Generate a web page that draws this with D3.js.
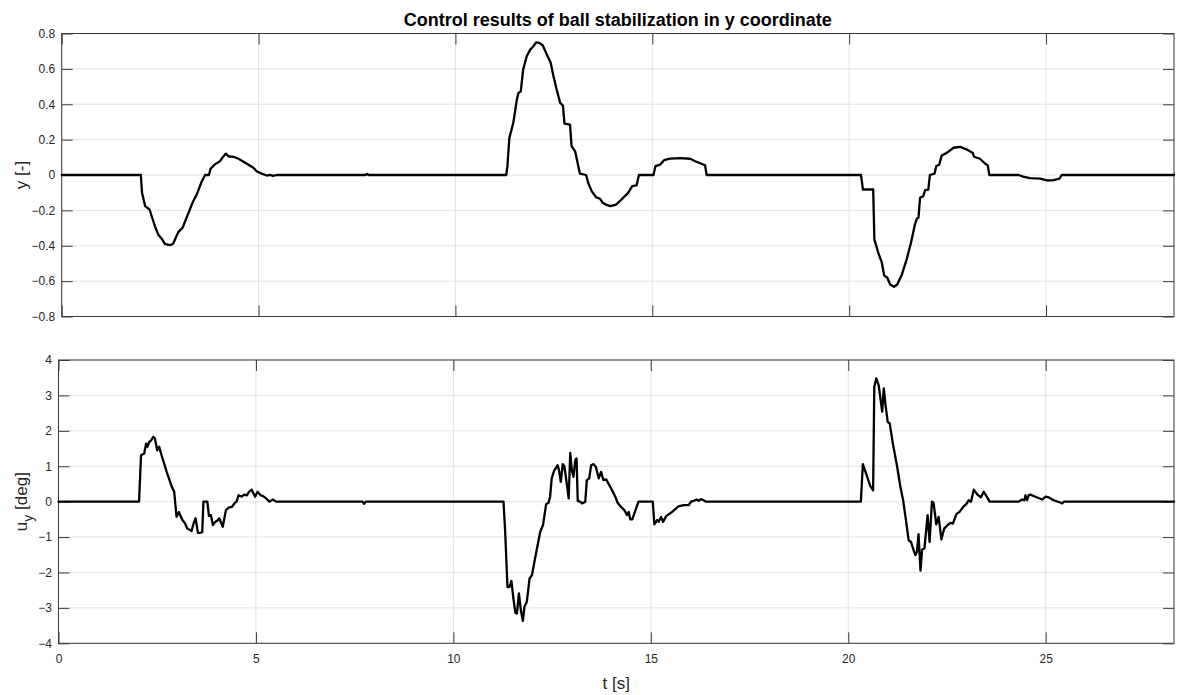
<!DOCTYPE html>
<html>
<head>
<meta charset="utf-8">
<script src="https://cdn.jsdelivr.net/npm/d3@7"></script>
<style>
  html, body { margin: 0; padding: 0; background: #fff; }
  svg { display: block; font-family: "Liberation Sans", Arial, Helvetica, sans-serif; }
</style>
</head>
<body>
<svg id="chart" width="1177" height="695"></svg>
<script>
// ---------------- DATA ----------------
const titleText = "Control results of ball stabilization in y coordinate";
const xLabelText = "t [s]";
const xDomain = [0, 28.25];
const xTicks = [0, 5, 10, 15, 20, 25];
const yTopTicks = [-0.8, -0.6, -0.4, -0.2, 0, 0.2, 0.4, 0.6, 0.8];
const yBotTicks = [-4, -3, -2, -1, 0, 1, 2, 3, 4];

// ball position y [-]
const tY = [0, 2.01, 2.04, 2.12, 2.23, 2.37, 2.45, 2.54, 2.62, 2.75, 2.83, 2.96, 3.07, 3.22, 3.34, 3.43, 3.56, 3.64, 3.74, 3.78, 3.89, 4.02, 4.10, 4.17, 4.23, 4.36, 4.49, 4.66, 4.87, 4.95, 5.08, 5.21, 5.29, 5.37, 5.46,
  7.72, 7.76, 7.80,
  11.29, 11.32, 11.37, 11.47, 11.56, 11.60, 11.66, 11.72, 11.81, 11.90, 11.98, 12.05, 12.13, 12.22, 12.32, 12.42, 12.49, 12.57, 12.66, 12.73, 12.77, 12.91, 12.95, 13.04, 13.16, 13.32, 13.37, 13.46, 13.57, 13.67, 13.74, 13.84, 13.94, 14.08, 14.22, 14.39, 14.49, 14.60, 14.66, 15.03, 15.08, 15.20, 15.30, 15.45, 15.71, 15.96, 16.09, 16.34, 16.38,
  20.30, 20.35, 20.61, 20.64, 20.74, 20.83, 20.89, 20.97, 21.04, 21.14, 21.22, 21.34, 21.46, 21.57, 21.67, 21.72, 21.76, 21.80, 21.88, 21.93, 22.01, 22.05, 22.17, 22.21, 22.29, 22.35, 22.48, 22.65, 22.82, 22.99, 23.14, 23.17, 23.32, 23.45, 23.52, 23.56,
  24.30, 24.42, 24.59, 24.85, 25.02, 25.19, 25.34, 25.40, 28.25];
const yVal = [0, 0, -0.10, -0.176, -0.195, -0.29, -0.336, -0.36, -0.389, -0.397, -0.389, -0.323, -0.298, -0.214, -0.148, -0.11, -0.035, 0, 0, 0.035, 0.06, 0.078, 0.103, 0.121, 0.106, 0.103, 0.092, 0.069, 0.041, 0.021, 0.008, -0.003, 0.001, -0.005, 0,
  0, 0.006, 0,
  0, 0.05, 0.21, 0.295, 0.427, 0.464, 0.473, 0.596, 0.671, 0.709, 0.728, 0.75, 0.747, 0.732, 0.681, 0.634, 0.558, 0.483, 0.408, 0.393, 0.291, 0.285, 0.163, 0.134, 0.008, 0, -0.044, -0.091, -0.125, -0.134, -0.157, -0.169, -0.176, -0.167, -0.138, -0.10, -0.063, -0.059, 0, 0, 0.05, 0.059, 0.084, 0.093, 0.095, 0.092, 0.078, 0.055, 0,
  0, -0.082, -0.082, -0.364, -0.44, -0.496, -0.568, -0.581, -0.619, -0.632, -0.619, -0.562, -0.477, -0.383, -0.28, -0.246, -0.242, -0.129, -0.12, -0.086, -0.082, 0, 0.008, 0.05, 0.059, 0.11, 0.125, 0.154, 0.159, 0.144, 0.125, 0.103, 0.092, 0.065, 0.054, 0,
  0, -0.009, -0.018, -0.021, -0.031, -0.029, -0.021, 0, 0];

// control action u_y [deg]
const tU = [0, 2.04, 2.09, 2.17, 2.22, 2.25, 2.30, 2.34, 2.40, 2.44, 2.50, 2.55, 2.61, 2.74, 2.87, 2.93, 2.99, 3.05, 3.10, 3.15, 3.20, 3.26, 3.33, 3.37, 3.42, 3.47, 3.50, 3.53, 3.58, 3.64, 3.67, 3.77, 3.81, 3.86, 3.91, 3.97, 4.02, 4.07, 4.16, 4.24, 4.32, 4.39, 4.47, 4.51, 4.56, 4.64, 4.70, 4.77, 4.83, 4.89, 4.98, 5.04, 5.12, 5.19, 5.26, 5.34, 5.43, 5.51,
  7.70, 7.74, 7.78,
  11.27, 11.31, 11.37, 11.42, 11.47, 11.52, 11.57, 11.61, 11.66, 11.71, 11.76, 11.80, 11.86, 11.93, 11.99, 12.07, 12.20, 12.27, 12.35, 12.41, 12.45, 12.49, 12.55, 12.64, 12.67, 12.72, 12.77, 12.81, 12.86, 12.92, 12.96, 13.00, 13.04, 13.09, 13.12, 13.15, 13.21, 13.26, 13.34, 13.38, 13.44, 13.49, 13.55, 13.61, 13.68, 13.74, 13.80, 13.87, 14.02, 14.10, 14.16, 14.23, 14.33, 14.40, 14.44, 14.48, 14.53, 14.69, 15.05, 15.09, 15.16, 15.20, 15.26, 15.31, 15.39, 15.54, 15.70, 15.83, 15.96, 16.02, 16.08, 16.17, 16.21, 16.27, 16.34, 16.40,
  20.32, 20.37, 20.48, 20.56, 20.63, 20.66, 20.71, 20.77, 20.81, 20.86, 20.90, 20.94, 21.00, 21.05, 21.13, 21.24, 21.32, 21.39, 21.45, 21.53, 21.59, 21.64, 21.70, 21.74, 21.78, 21.83, 21.87, 21.93, 22.01, 22.06, 22.12, 22.16, 22.23, 22.29, 22.36, 22.43, 22.52, 22.59, 22.65, 22.74, 22.82, 22.91, 22.99, 23.05, 23.11, 23.18, 23.26, 23.36, 23.43, 23.52, 23.58,
  24.32, 24.40, 24.46, 24.49, 24.53, 24.57, 24.61, 24.74, 24.91, 25.00, 25.08, 25.20, 25.33, 25.42, 25.46, 28.25];
const uVal = [0, 0, 1.31, 1.36, 1.64, 1.55, 1.69, 1.72, 1.83, 1.79, 1.45, 1.55, 1.31, 0.84, 0.42, 0.28, -0.43, -0.29, -0.43, -0.54, -0.60, -0.76, -0.80, -0.83, -0.62, -0.47, -0.66, -0.88, -0.88, -0.86, 0, 0, -0.41, -0.38, -0.66, -0.57, -0.54, -0.47, -0.71, -0.24, -0.16, -0.15, -0.03, 0, 0.18, 0.14, 0.20, 0.18, 0.28, 0.34, 0.14, 0.28, 0.18, 0.15, 0.09, 0, 0.06, 0,
  0, -0.06, 0,
  0, -0.80, -2.41, -2.41, -2.24, -2.73, -3.14, -3.16, -2.59, -3.07, -3.37, -2.97, -2.83, -2.17, -2.08, -1.60, -0.85, -0.66, -0.07, -0.03, 0.14, 0.66, 0.87, 1.03, 0.91, 0.56, 1.06, 1.00, 0.61, 0.09, 1.38, 0.89, 0.70, 1.19, 1.22, 0.02, 0, -0.05, 0, 0.61, 0.66, 1.03, 1.06, 0.98, 0.66, 0.84, 0.61, 0.63, 0.32, 0.14, -0.03, -0.13, -0.24, -0.38, -0.29, -0.50, -0.50, 0, 0, -0.64, -0.52, -0.57, -0.43, -0.57, -0.41, -0.29, -0.13, -0.10, -0.10, 0, 0.02, 0.06, 0.02, 0.07, 0.04, 0,
  0, 1.06, 0.70, 0.44, 0.32, 3.24, 3.48, 3.29, 2.96, 2.54, 3.20, 2.77, 2.25, 2.21, 1.64, 0.98, 0.42, 0.04, -0.43, -1.09, -1.14, -1.32, -1.51, -1.42, -0.92, -1.95, -1.35, -1.32, -0.38, -1.14, 0, -0.03, -0.64, -0.43, -1.07, -0.76, -0.66, -0.60, -0.62, -0.35, -0.29, -0.15, -0.07, 0.04, 0, 0.34, 0.21, 0.12, 0.28, 0.12, 0,
  0, 0.06, 0.04, 0.18, 0.04, 0.18, 0.20, 0.14, 0.06, 0.14, 0.12, 0.04, -0.01, -0.05, 0, 0];

// ---------------- DRAWING ----------------
const svg = d3.select("#chart");
const TEXT = "#262626";
const GRID = "#e3e3e3";
const AXIS = "#3a3a3a";
const TICK_LEN = 11;

const panels = [
  { left: 61.7, right: 1174, top: 33.5, bottom: 316.5, domain: [-0.8, 0.8], ticks: yTopTicks, t: tY, v: yVal, showX: false },
  { left: 58.5, right: 1174, top: 360, bottom: 643.3, domain: [-4, 4], ticks: yBotTicks, t: tU, v: uVal, showX: true }
];

const fmtTop = d => (Math.abs(d) < 1e-9 ? "0" : d3.format(".1f")(d));
const fmtBot = d => d3.format("d")(d);

panels.forEach((p, i) => {
  const x = d3.scaleLinear().domain(xDomain).range([p.left, p.right]);
  const y = d3.scaleLinear().domain(p.domain).range([p.bottom, p.top]);
  const g = svg.append("g");

  // grid
  g.append("g").selectAll("line").data(xTicks).join("line")
    .attr("x1", d => x(d)).attr("x2", d => x(d))
    .attr("y1", p.top).attr("y2", p.bottom)
    .attr("stroke", GRID).attr("stroke-width", 1);
  g.append("g").selectAll("line").data(p.ticks).join("line")
    .attr("x1", p.left).attr("x2", p.right)
    .attr("y1", d => y(d)).attr("y2", d => y(d))
    .attr("stroke", GRID).attr("stroke-width", 1);

  // axes (inward ticks)
  const styleAxis = sel => {
    sel.select(".domain").remove();
    sel.selectAll(".tick line").attr("stroke", AXIS).attr("stroke-width", 1);
    sel.selectAll(".tick text").attr("fill", TEXT).style("font-size", "12px")
      .style("font-family", '"Liberation Sans", Arial, Helvetica, sans-serif');
  };
  const fmtY = i === 0 ? fmtTop : fmtBot;
  g.append("g").attr("transform", `translate(${p.left},0)`)
    .call(d3.axisLeft(y).tickValues(p.ticks).tickFormat(fmtY).tickSizeInner(-TICK_LEN).tickSizeOuter(0).tickPadding(6.5))
    .call(styleAxis);
  g.append("g").attr("transform", `translate(${p.right},0)`)
    .call(d3.axisRight(y).tickValues(p.ticks).tickFormat("").tickSizeInner(-TICK_LEN).tickSizeOuter(0))
    .call(styleAxis);
  g.append("g").attr("transform", `translate(0,${p.top})`)
    .call(d3.axisTop(x).tickValues(xTicks).tickFormat("").tickSizeInner(-TICK_LEN).tickSizeOuter(0))
    .call(styleAxis);
  g.append("g").attr("transform", `translate(0,${p.bottom})`)
    .call(d3.axisBottom(x).tickValues(xTicks).tickFormat(p.showX ? d3.format("d") : "").tickSizeInner(-TICK_LEN).tickSizeOuter(0).tickPadding(11))
    .call(styleAxis);

  // box
  g.append("rect")
    .attr("x", p.left).attr("y", p.top)
    .attr("width", p.right - p.left).attr("height", p.bottom - p.top)
    .attr("fill", "none").attr("stroke", AXIS).attr("stroke-width", 1);

  // data line
  const pts = p.t.map((t, k) => [t, p.v[k]]);
  const line = d3.line().x(d => x(d[0])).y(d => y(d[1]));
  g.append("path").datum(pts)
    .attr("d", line)
    .attr("fill", "none")
    .attr("stroke", "#000")
    .attr("stroke-width", 2.3)
    .attr("stroke-linejoin", "round")
    .attr("stroke-linecap", "round");
});

// title
svg.append("text")
  .attr("x", (panels[0].left + panels[0].right) / 2).attr("y", 26)
  .attr("text-anchor", "middle")
  .attr("fill", "#000")
  .style("font-size", "18px").style("font-weight", "bold")
  .text(titleText);

// y labels
svg.append("text")
  .attr("transform", `translate(27,${(panels[0].top + panels[0].bottom) / 2}) rotate(-90)`)
  .attr("text-anchor", "middle").attr("fill", TEXT)
  .style("font-size", "17px")
  .text("y [-]");

const uy = svg.append("text")
  .attr("transform", `translate(27,${(panels[1].top + panels[1].bottom) / 2}) rotate(-90)`)
  .attr("text-anchor", "middle").attr("fill", TEXT)
  .style("font-size", "17px");
uy.append("tspan").text("u");
uy.append("tspan").attr("dy", 6).style("font-size", "14px").text("y");
uy.append("tspan").attr("dy", -6).text(" [deg]");

// x label
svg.append("text")
  .attr("x", (panels[1].left + panels[1].right) / 2).attr("y", 689)
  .attr("text-anchor", "middle").attr("fill", TEXT)
  .style("font-size", "17px")
  .text(xLabelText);
</script>
</body>
</html>
